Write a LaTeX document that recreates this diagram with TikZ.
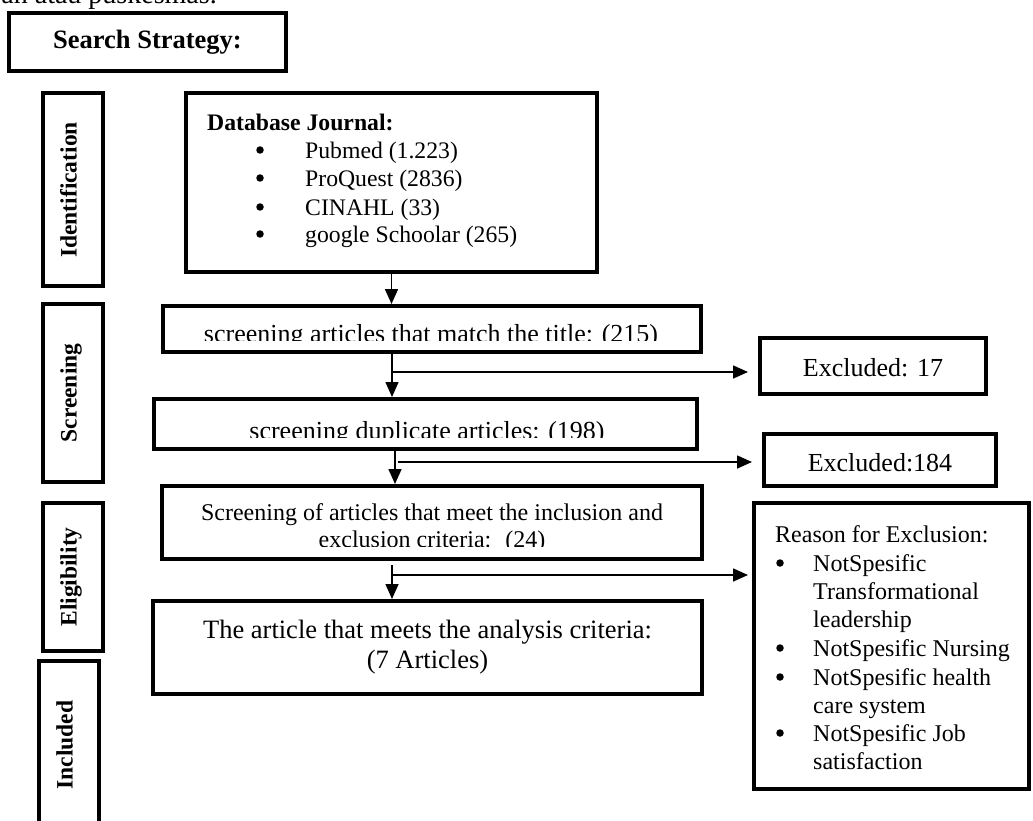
\documentclass[tikz,border=0pt]{standalone}
\usepackage{fontspec}
\setmainfont{Liberation Serif}
\usetikzlibrary{arrows.meta}
\begin{document}
\begin{tikzpicture}[x=1pt,y=-1pt,
  bx/.style={draw,line width=4pt,rectangle,inner sep=0pt},
  arr/.style={line width=1.6pt,-{Triangle[length=15pt,width=13pt]}},
  tx/.style={inner sep=0pt,text height=0.7em,text depth=0.2em,yshift=-6pt},
  bul/.style={circle,fill=black,inner sep=0pt,minimum size=7.5pt},
  lab/.style={inner sep=0pt,text height=0.7em,text depth=0.2em,font=\fontsize{23.5}{28}\selectfont\bfseries,rotate=90},
  fa/.style={font=\fontsize{26}{30}\selectfont},
  fb/.style={font=\fontsize{24}{28}\selectfont},
  fc/.style={font=\fontsize{23.7}{28}\selectfont}]
\useasboundingbox (0,0) rectangle (1033,821);
\fill[white] (0,0) rectangle (1033,821);

% clipped top line of preceding text
\node[inner sep=0pt,anchor=base east,font=\fontsize{28}{30}\selectfont] (toptext) at (217,4) {an atau puskesmas.};

% boxes
\node[bx,minimum width=277,minimum height=58] (ss) at (147.5,42) {};
\node[tx,yshift=3pt,font=\fontsize{26.5}{30}\selectfont\bfseries] (sst) at (147.5,43) {Search Strategy:};

\node[bx,minimum width=60,minimum height=193] (id) at (73,189.5) {};
\node[bx,minimum width=60,minimum height=178] (sc) at (73,393) {};
\node[bx,minimum width=60,minimum height=148] (el) at (73,577) {};
\node[bx,minimum width=60,minimum height=170] (in) at (69,746) {};
\node[lab] (idt) at (74,190) {Identification};
\node[lab] (sct) at (74,393) {Screening};
\node[lab] (elt) at (74,577) {Eligibility};
\node[lab] (int) at (70,745) {Included};

\node[bx,minimum width=411,minimum height=179] (db) at (391.5,182.5) {};
\node[bx,minimum width=538,minimum height=46] (s1) at (432,329) {};
\node[bx,minimum width=543,minimum height=50] (s2) at (425.5,424) {};
\node[bx,minimum width=540,minimum height=73] (s3) at (432,522.5) {};
\node[bx,minimum width=549,minimum height=93] (s4) at (427.5,647.5) {};
\node[bx,minimum width=226,minimum height=56] (e1) at (873,366) {};
\node[bx,minimum width=232,minimum height=52] (e2) at (880,460) {};
\node[bx,minimum width=275,minimum height=286] (rs) at (891.5,646) {};

% database text
\node[tx,anchor=west,font=\fontsize{23.7}{28}\selectfont\bfseries] (dbh) at (207,122) {Database Journal:};
\foreach \yy/\tt [count=\i] in {150/Pubmed (1.223),178/ProQuest (2836),207/CINAHL (33),234/google Schoolar (265)}{
  \node[bul] (dbb\i) at (260,\yy) {};
  \node[tx,fc,anchor=west] (dbi\i) at (305,\yy) {\tt};
}

% screening texts (clipped at bottom as in the source)
\begin{scope}
  \clip (162,300) rectangle (702,340);
  \node[fa,inner sep=0pt,anchor=base] (s1t) at (431,342) {screening articles that match the title: (215)};
\end{scope}
\begin{scope}
  \clip (153,395) rectangle (698,437);
  \node[fa,inner sep=0pt,anchor=base] (s2t) at (427,439) {screening duplicate articles: (198)};
\end{scope}
\begin{scope}
  \clip (161,480) rectangle (703,546);
  \node[fb,inner sep=0pt,anchor=base] (s3a) at (432,520) {Screening of articles that meet the inclusion and};
  \node[fb,inner sep=0pt,anchor=base] (s3b) at (432,547) {exclusion criteria:~ (24)};
\end{scope}
\node[tx,font=\fontsize{26.5}{30}\selectfont] (s4a) at (427.5,630) {The article that meets the analysis criteria:};
\node[tx,font=\fontsize{26.5}{30}\selectfont] (s4b) at (427.5,660) {(7 Articles)};

\node[tx,fa] (e1t) at (873,368) {Excluded: 17};
\node[tx,fa] (e2t) at (880,463) {Excluded:184};

% reason box text
\node[tx,fb,anchor=west] (rsh) at (775,534) {Reason for Exclusion:};
\foreach \yy/\tt [count=\i] in {563/NotSpesific,591/Transformational,619/leadership,648/NotSpesific Nursing,677/NotSpesific health,705/care system,733/NotSpesific Job,761/satisfaction}{
  \node[tx,fb,anchor=west] (rsi\i) at (813,\yy) {\tt};
}
\foreach \yy [count=\i] in {563,648,677,733}{
  \node[bul] (rsb\i) at (780,\yy) {};
}

% connectors
\coordinate (j1) at (392,372);
\coordinate (t1) at (748,372);
\coordinate (j2) at (398,462);
\coordinate (t2) at (752,462);
\coordinate (j3) at (393,575);
\coordinate (t3) at (748,575);
\coordinate (v2) at (395,0);
\coordinate (v3) at (392,565);

\draw[arr] (db.south) -- (db.south |- s1.north);
\draw[arr] (s1.south -| j1) -- (s2.north -| j1);
\draw[arr] (j1) -- (t1);
\draw[arr] (s2.south -| v2) -- (s3.north -| v2);
\draw[arr] (j2) -- (t2);
\draw[arr] (v3) -- (s4.north -| v3);
\draw[arr] (j3) -- (t3);
\end{tikzpicture}
\end{document}
